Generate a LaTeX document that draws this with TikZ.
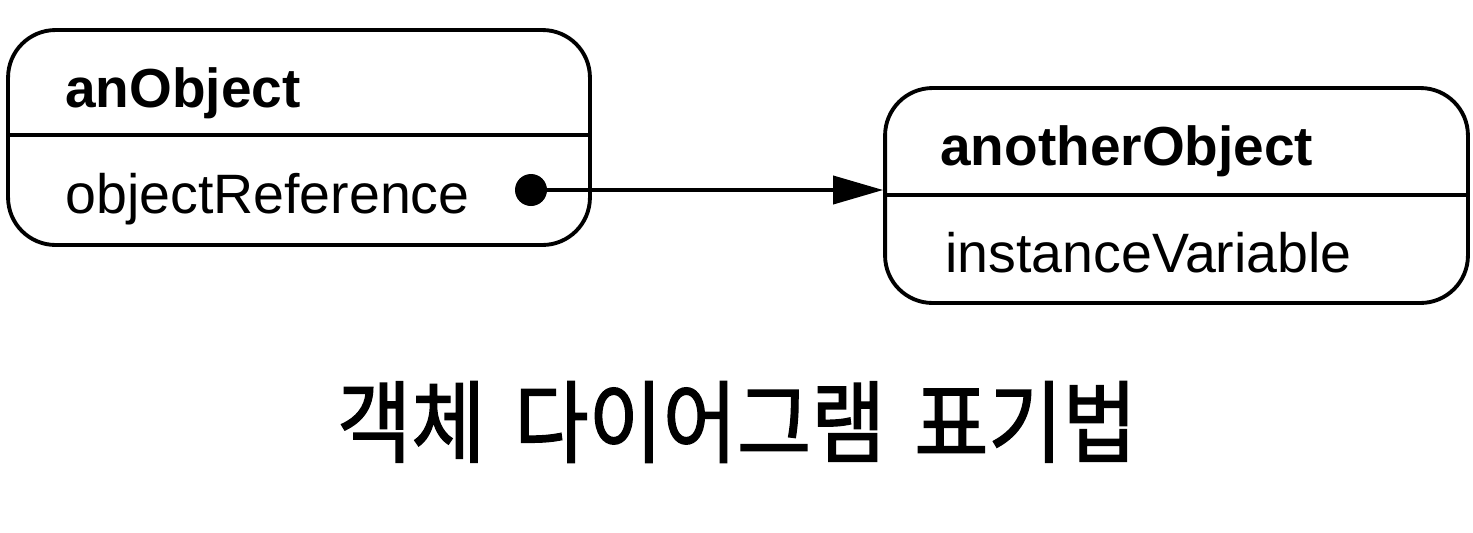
\documentclass[tikz,border=0pt]{standalone}
\usepackage{fontspec}
\setmainfont{Liberation Sans}
\newfontfamily\krfont[FakeBold=1.6, WordSpace=1.6]{Noto Sans CJK KR}
\usetikzlibrary{arrows.meta}
\tikzset{
  objbox/.style={draw, line width=2.2pt, rounded corners=0.95cm, inner sep=0pt},
  objname/.style={anchor=base west, inner sep=0pt, font=\fontsize{31.3}{36}\selectfont\bfseries},
  objvar/.style={anchor=base west, inner sep=0pt, font=\fontsize{31.6}{36}\selectfont},
  refdot/.style={circle, fill, inner sep=0pt, minimum size=0.64cm},
  ref/.style={line width=2.2pt, -{Triangle[length=1cm,width=0.56cm]}}
}
\begin{document}
\begin{tikzpicture}[x=0.02cm,y=-0.02cm]
\useasboundingbox (0,0) rectangle (1473,532);
% first object
\node[objbox, minimum width=11.64cm, minimum height=4.3cm] (anObj) at (299,137.5) {};
\draw[line width=2.2pt] (anObj.west |- 0,135) -- (anObj.east |- 0,135);
\node[objname] (anObjName) at (65,107) {anObject};
\node[objvar] (objRef) at (65,213) {objectReference};
% second object
\node[objbox, minimum width=11.66cm, minimum height=4.3cm] (anotherObj) at (1176.5,195.5) {};
\draw[line width=2.2pt] (anotherObj.west |- 0,195) -- (anotherObj.east |- 0,195);
\node[objname] (anotherObjName) at (940,165) {anotherObject};
\node[objvar] (instVar) at (945,272) {instanceVariable};
% reference
\node[refdot] (dot) at (531,190) {};
\coordinate (tip) at (anotherObj.west |- dot);
\draw[ref] (dot.center) -- (tip);
% caption
\node[font=\krfont\fontsize{51}{55}\selectfont, inner sep=0pt] (caption) at (737,422) {\scalebox{0.9}[1]{객체 다이어그램 표기법}};
\end{tikzpicture}
\end{document}
